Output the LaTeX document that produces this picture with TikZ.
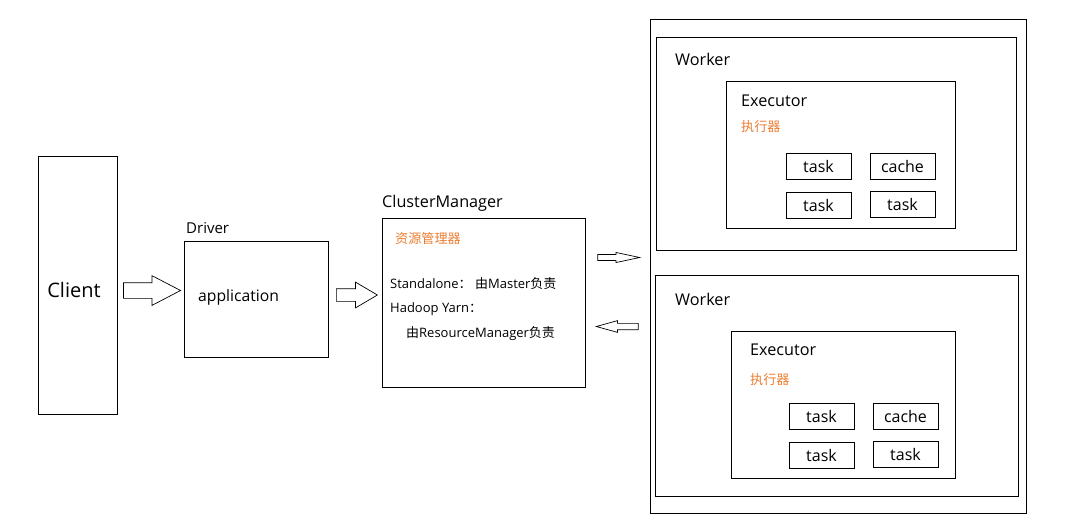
\documentclass[tikz,border=0pt]{standalone}
\usepackage{fontspec}
\setmainfont{Open Sans}
\newfontfamily\cjk{Noto Sans CJK SC}
\usepackage{xcolor}
\usetikzlibrary{shapes.arrows}
\definecolor{zhorange}{RGB}{237,125,49}
\tikzset{
  box/.style={draw, line width=0.8pt, inner sep=0pt},
  lbl/.style={anchor=west, inner sep=0pt, font=\fontsize{16.2}{18}\selectfont},
  small/.style={anchor=west, inner sep=0pt, font=\fontsize{13}{14}\selectfont},
  zh/.style={anchor=west, inner sep=0pt, text=zhorange, font=\fontsize{13.1}{14}\selectfont\cjk},
  taskbox/.style={box, minimum width=65pt, minimum height=26pt, font=\fontsize{16}{18}\selectfont},
  fatarrow/.style={single arrow, draw, line width=0.7pt, minimum width=0pt, inner xsep=0pt}
}
\begin{document}
\begin{tikzpicture}[x=1pt,y=-1pt]
\useasboundingbox (0,0) rectangle (1068,531);
\fill[white] (0,0) rectangle (1068,531);

% client, driver, cluster manager
\node [box, minimum width=79pt, minimum height=258pt] (client) at (77.5,285) {};
\node [font=\fontsize{20}{22}\selectfont, inner sep=0pt] (clientlbl) at (74,290) {Client};
\node [box, minimum width=144pt, minimum height=116pt] (driver) at (256,299) {};
\node [lbl, font=\fontsize{15}{17}\selectfont] (driverlbl) at (186,228) {Driver};
\node [lbl, font=\fontsize{15.7}{17}\selectfont] (app) at (198,297) {application};
\node [box, minimum width=203pt, minimum height=169pt] (cm) at (483.5,302.5) {};
\node [lbl] (cmlbl) at (382,203) {ClusterManager};
\node [zh] (cmzh) at (395,239) {资源管理器};
\node [small] (sa) at (390,284) {Standalone{\cjk ：} {\cjk 由}Master{\cjk 负责}};
\node [small] (yarn) at (390,309) {Hadoop Yarn{\cjk ：}};
\node [small] (rm) at (406,334) {{\cjk 由}ResourceManager{\cjk 负责}};

% block arrows
\node [fatarrow, minimum height=57pt, inner ysep=7.5pt, single arrow head extend=7pt, single arrow tip angle=55] (a1) at (144.5,290.5) {};
\node [fatarrow, minimum height=41pt, inner ysep=6pt, single arrow head extend=6.5pt, single arrow tip angle=61] (a2) at (351.5,295) {};
\node [fatarrow, minimum height=42pt, inner ysep=2.7pt, single arrow head extend=2pt, single arrow tip angle=24] (a3) at (611.5,257.5) {};
\node [fatarrow, minimum height=42pt, inner ysep=2.8pt, single arrow head extend=2.7pt, single arrow tip angle=31, shape border rotate=180] (a4) at (623,326.5) {};

% workers
\node [box, minimum width=376pt, minimum height=494pt] (outer) at (838,266) {};

\node [box, minimum width=360pt, minimum height=213pt] (w1) at (836,143.5) {};
\node [lbl] (w1lbl) at (675,59) {Worker};
\node [box, minimum width=229pt, minimum height=147pt] (e1) at (840.5,154.5) {};
\node [lbl] (e1lbl) at (741,101) {Executor};
\node [zh] (e1zh) at (741,127) {执行器};
\node [taskbox] (t11) at (818.5,166.5) {task};
\node [taskbox] (c1) at (902.5,166) {cache};
\node [taskbox] (t12) at (818.5,205) {task};
\node [taskbox] (t13) at (902.5,204) {task};

\node [box, minimum width=363pt, minimum height=221pt] (w2) at (836.5,385.5) {};
\node [lbl] (w2lbl) at (675,299) {Worker};
\node [box, minimum width=224pt, minimum height=147pt] (e2) at (843,404.5) {};
\node [lbl] (e2lbl) at (750,350) {Executor};
\node [zh] (e2zh) at (750,380) {执行器};
\node [taskbox] (t21) at (821.5,416) {task};
\node [taskbox] (c2) at (905.5,416) {cache};
\node [taskbox] (t22) at (821.5,455) {task};
\node [taskbox] (t23) at (905.5,454) {task};

\end{tikzpicture}
\end{document}
